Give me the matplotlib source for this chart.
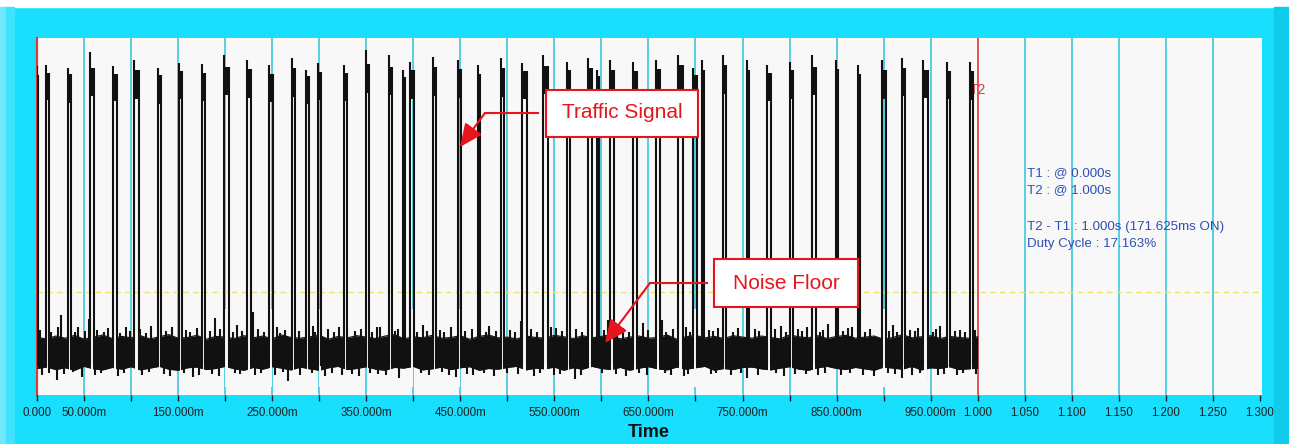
import numpy as np
import matplotlib
matplotlib.use("Agg")
import matplotlib.pyplot as plt
from matplotlib.patches import Rectangle, FancyArrowPatch
from matplotlib.lines import Line2D

plt.rcParams['font.family'] = ['Liberation Sans', 'DejaVu Sans']

# ---------------------------------------------------------------- data
# Pulse bursts of the traffic signal (start and width in ms)
pulse_start_ms = [0.0, 9.6, 32.6, 56.7, 81.1, 103.4, 128.3, 150.6, 175.1, 199.3,
                  222.9, 246.3, 271.1, 286.0, 299.2, 326.4, 349.7, 373.9, 389.1, 396.5,
                  420.6, 447.5, 468.5, 493.3, 515.9, 538.2, 563.1, 585.7, 595.0, 609.1,
                  633.9, 657.7, 681.7, 697.7, 706.6, 729.6, 754.4, 775.7, 800.5, 824.2,
                  849.1, 872.4, 898.0, 919.2, 942.2, 967.0, 991.8]
pulse_width_ms = [0.6, 2.9, 3.5, 3.6, 3.6, 5.3, 3.5, 3.2, 3.5, 4.8,
                  4.6, 4.3, 3.5, 3.2, 3.2, 3.2, 3.2, 3.5, 1.6, 3.9,
                  3.5, 3.2, 2.8, 3.5, 4.7, 4.7, 3.5, 4.3, 2.8, 4.3,
                  3.6, 4.6, 4.7, 3.6, 2.8, 2.6, 2.4, 4.6, 3.5, 3.6,
                  2.8, 2.5, 4.6, 3.5, 4.7, 3.5, 2.9]
# ON-level of each burst: highest spike, upper and lower edge of the noisy top
pulse_peak = [92.1, 92.4, 91.6, 96.1, 92.1, 93.8, 91.6, 93.0, 92.7, 95.2,
              93.8, 92.4, 94.4, 91.0, 93.0, 92.4, 96.6, 95.2, 91.0, 93.3,
              94.7, 93.8, 92.4, 94.4, 93.0, 95.2, 93.3, 94.4, 91.0, 93.8,
              93.3, 93.8, 95.2, 91.6, 93.8, 95.2, 93.8, 92.4, 93.3, 95.2,
              93.8, 92.4, 93.8, 94.4, 93.8, 93.3, 93.3]
pulse_hi = [89.5, 90.3, 89.8, 91.5, 90.0, 91.0, 89.6, 90.7, 90.2, 91.8,
            91.2, 90.0, 91.5, 89.4, 90.6, 90.1, 92.8, 92.0, 89.2, 90.9,
            91.8, 91.2, 90.0, 91.6, 90.8, 92.1, 90.9, 91.7, 89.3, 91.0,
            90.8, 91.3, 92.3, 89.7, 91.1, 92.4, 91.0, 90.2, 90.9, 92.0,
            91.3, 90.0, 91.0, 91.6, 91.1, 90.8, 90.7]
pulse_lo = [82.0, 82.5, 81.8, 83.6, 82.3, 83.0, 81.5, 82.8, 82.2, 84.0,
            83.1, 82.0, 83.4, 81.6, 82.7, 82.2, 84.5, 84.1, 81.5, 83.0,
            83.8, 83.2, 82.1, 83.5, 82.9, 84.2, 82.8, 83.6, 81.4, 83.1,
            82.7, 83.3, 84.3, 81.8, 83.0, 84.4, 83.1, 82.3, 82.8, 84.0,
            83.2, 82.1, 83.0, 83.7, 83.2, 82.9, 82.6]

# Solid core of the noise floor, one value every 10 ms from 0 to 1000 ms
noise_step_ms = 10.0
noise_hi = [16.0, 15.6, 16.4, 15.8, 16.6, 15.5, 16.1, 16.7, 15.7, 16.3,
            15.9, 16.5, 15.6, 16.2, 16.8, 15.8, 16.0, 16.6, 15.5, 16.3,
            16.1, 15.7, 16.5, 15.9, 16.4, 15.6, 16.7, 16.0, 15.8, 16.2,
            16.6, 15.5, 16.3, 15.9, 16.5, 16.1, 15.7, 16.4, 16.8, 15.6,
            16.2, 15.9, 16.6, 15.8, 16.0, 16.5, 15.5, 16.3, 16.7, 15.9,
            16.1, 15.6, 16.4, 16.0, 15.8, 16.6, 16.2, 15.7, 16.5, 15.9,
            16.3, 16.8, 15.6, 16.1, 16.4, 15.8, 16.0, 16.7, 15.5, 16.2,
            16.6, 15.9, 16.3, 15.7, 16.5, 16.1, 15.8, 16.4, 16.0, 15.6,
            16.7, 16.2, 15.9, 16.5, 15.7, 16.3, 16.6, 15.8, 16.1, 16.4,
            15.5, 16.0, 16.8, 15.9, 16.2, 16.5, 15.7, 16.3, 16.0, 15.8,
            16.2]
noise_lo = [7.3, 7.7, 7.0, 7.5, 6.8, 7.9, 7.2, 6.9, 7.6, 7.1,
            7.8, 6.9, 7.4, 7.9, 7.1, 6.8, 7.5, 7.7, 7.0, 7.3,
            7.9, 7.2, 6.8, 7.6, 7.1, 7.8, 7.4, 6.9, 7.7, 7.2,
            6.8, 7.5, 7.9, 7.0, 7.3, 7.8, 7.1, 6.8, 7.6, 7.4,
            7.9, 6.9, 7.2, 7.7, 7.0, 7.5, 7.8, 6.8, 7.3, 7.1,
            7.6, 7.9, 6.9, 7.4, 7.2, 7.7, 6.8, 7.5, 7.1, 7.9,
            7.3, 7.0, 7.6, 6.8, 7.4, 7.8, 7.2, 6.9, 7.7, 7.1,
            7.5, 7.9, 6.8, 7.3, 7.0, 7.6, 7.7, 7.2, 6.9, 7.4,
            7.8, 7.1, 6.8, 7.5, 7.9, 7.3, 7.0, 7.6, 7.2, 6.8,
            7.7, 7.4, 7.1, 7.9, 6.9, 7.5, 7.3, 7.8, 7.0, 7.2,
            7.4]
# spikes sticking out of the noise core (time in ms, level reached)
spike_up_ms = [3, 15, 22, 26, 40, 44, 51, 55, 64, 71,
               76, 88, 95, 99, 109, 116, 121, 137, 143, 158,
               163, 170, 184, 189, 195, 208, 213, 218, 230, 235,
               241, 255, 258, 264, 279, 293, 296, 309, 316, 321,
               330, 338, 344, 356, 361, 365, 381, 384, 404, 410,
               415, 428, 433, 440, 455, 462, 477, 481, 488, 503,
               508, 515, 525, 531, 546, 552, 558, 573, 579, 603,
               607, 617, 623, 629, 644, 650, 664, 669, 676, 690,
               694, 714, 719, 724, 729, 740, 745, 763, 768, 784,
               791, 796, 809, 813, 819, 832, 836, 841, 857, 862,
               866, 880, 886, 906, 910, 914, 928, 933, 937, 952,
               956, 960, 976, 981, 986, 997]
spike_up_level = [18.2, 17.6, 19.0, 22.3, 17.4, 18.8, 17.9, 21.2, 18.1, 17.5,
                  18.6, 17.3, 18.9, 17.8, 18.5, 17.2, 19.1, 17.7, 19.0, 18.0,
                  17.4, 18.7, 17.9, 21.5, 18.3, 17.6, 19.4, 17.8, 23.2, 18.4,
                  17.5, 18.8, 17.3, 18.2, 17.9, 19.1, 17.6, 18.5, 17.4, 18.9,
                  18.6, 17.7, 18.3, 17.5, 18.8, 19.0, 17.8, 18.4, 17.6, 19.5,
                  17.9, 18.2, 17.4, 18.8, 17.7, 18.5, 17.5, 19.3, 17.8, 18.1,
                  17.6, 20.5, 18.3, 17.5, 18.9, 18.7, 17.8, 18.4, 17.6, 18.2,
                  20.9, 17.7, 18.6, 17.4, 20.0, 18.1, 20.9, 17.6, 18.3, 18.9,
                  17.5, 18.2, 17.8, 18.6, 18.0, 17.4, 18.7, 18.5, 17.7, 18.3,
                  19.2, 17.6, 18.4, 17.9, 18.8, 17.5, 18.1, 19.7, 17.7, 18.6,
                  18.8, 17.4, 18.3, 17.8, 19.4, 17.6, 18.2, 17.9, 18.6, 17.5,
                  18.4, 19.1, 17.7, 18.2, 17.6, 18.0]
spike_dn_ms = [5, 13, 21, 29, 38, 48, 62, 68, 86, 92,
               112, 119, 135, 141, 156, 166, 172, 186, 193, 210,
               216, 232, 238, 253, 261, 267, 280, 292, 306, 314,
               324, 335, 342, 354, 363, 371, 385, 408, 417, 430,
               438, 445, 457, 464, 475, 486, 500, 511, 528, 535,
               550, 556, 572, 578, 601, 616, 626, 640, 648, 668,
               674, 688, 692, 716, 722, 738, 748, 755, 766, 786,
               794, 806, 818, 830, 838, 855, 864, 878, 890, 905,
               912, 920, 930, 939, 945, 958, 964, 978, 984, 998]
spike_dn_level = [5.4, 6.0, 4.2, 5.7, 6.2, 4.9, 5.6, 6.1, 5.3, 5.9,
                  5.5, 6.2, 5.7, 5.2, 6.0, 4.8, 5.6, 5.8, 5.1, 6.1,
                  5.7, 5.4, 6.0, 5.6, 6.2, 3.9, 5.5, 5.9, 5.3, 6.1,
                  5.6, 5.8, 5.2, 6.0, 5.7, 5.4, 4.6, 5.9, 5.6, 6.2,
                  5.4, 4.9, 5.8, 5.5, 6.1, 5.3, 5.9, 5.7, 5.2, 6.0,
                  5.6, 5.8, 4.3, 5.4, 6.1, 5.7, 5.3, 5.9, 5.6, 6.0,
                  5.5, 5.2, 5.8, 5.7, 6.1, 5.4, 5.9, 4.7, 5.6, 6.0,
                  5.3, 5.8, 5.7, 5.5, 6.1, 5.4, 5.9, 5.6, 5.2, 6.0,
                  5.7, 4.5, 5.5, 5.9, 3.8, 5.6, 5.8, 5.4, 6.0, 5.7]

threshold_level = 28.75
cursor_t1 = 0.0
cursor_t2 = 1.0

tick_pos = [i * 0.05 for i in range(27)]
tick_labels = ["0.000", "50.000m", "", "150.000m", "", "250.000m", "", "350.000m", "",
               "450.000m", "", "550.000m", "", "650.000m", "", "750.000m", "",
               "850.000m", "", "950.000m", "1.000", "1.050", "1.100", "1.150",
               "1.200", "1.250", "1.300"]

info_lines = ["T1 : @ 0.000s", "T2 : @ 1.000s", "",
              "T2 - T1 : 1.000s (171.625ms ON)", "Duty Cycle : 17.163%"]

# ---------------------------------------------------------------- style
FRAME = '#19dfff'
PLOT_BG = '#f8f8f8'
GRID = '#4ccbe0'
CURSOR = '#d83c3c'
TRACE = '#111111'
NOTE_RED = '#e8141c'
INFO_BLUE = '#2f4fb5'

W, H = 1289, 444


def fx(px):
    return px / W


def fy(py):
    return 1 - py / H


fig = plt.figure(figsize=(W / 100, H / 100), dpi=100, facecolor=FRAME)

# window frame decoration
fig.patches.append(Rectangle((0, fy(7)), 1, 7 / H, transform=fig.transFigure,
                             color='white', zorder=0))
fig.patches.append(Rectangle((0, 0), fx(6), fy(7), transform=fig.transFigure,
                             color='#72e9fb', zorder=0))
fig.patches.append(Rectangle((fx(6), 0), fx(8), fy(7), transform=fig.transFigure,
                             color='#40e3fe', zorder=0))
fig.patches.append(Rectangle((fx(1274), 0), fx(15), fy(7), transform=fig.transFigure,
                             color='#10cbec', zorder=0))

left_px, right_px, top_px, bottom_px = 37, 1261.5, 38, 394.5
ax = fig.add_axes([fx(left_px), fy(bottom_px), fx(right_px) - fx(left_px),
                   (bottom_px - top_px) / H])
ax.set_facecolor(PLOT_BG)
ax.set_xlim(0, (right_px - left_px) / 940.7)
ax.set_ylim(0, 100)
for s in ax.spines.values():
    s.set_visible(False)

ax.set_yticks([])
ax.set_xticks(tick_pos)
ax.set_xticklabels(tick_labels)
ax.tick_params(axis='x', length=4, width=1, color='#202020', pad=5,
               labelsize=8.3, labelcolor='#1e1e1e')

# vertical grid
grid_pos = [p for p in tick_pos[1:-1] if abs(p - cursor_t2) > 1e-9]
ax.vlines(grid_pos, 0, 100, colors=GRID, lw=1.3, zorder=0.5)

# threshold
ax.axhline(threshold_level, color='#f0e468', lw=1.0, ls=(0, (4, 3)), zorder=0.8)

# cursors
ax.axvline(cursor_t1, color=CURSOR, lw=1.6, zorder=1, clip_on=False)
ax.axvline(cursor_t2, color=CURSOR, lw=1.2, zorder=1)
ax.text(cursor_t2, 85.4, "T2", color=CURSOR, fontsize=10, ha='center', va='center',
        zorder=1.2)

# noise floor: solid core plus the spikes around it
t_noise = np.arange(len(noise_hi)) * noise_step_ms / 1000.0
ax.fill_between(t_noise, noise_lo, noise_hi, color=TRACE, lw=0, zorder=2)
ax.plot(t_noise, noise_hi, color=TRACE, lw=0.8, zorder=2)
ax.plot(t_noise, noise_lo, color=TRACE, lw=0.8, zorder=2)
ax.vlines(np.array(spike_up_ms) / 1000.0, 15.0, spike_up_level, colors=TRACE,
          lw=1.5, zorder=2)
ax.vlines(np.array(spike_dn_ms) / 1000.0, spike_dn_level, 8.0, colors=TRACE,
          lw=1.5, zorder=2)

# pulses
for st, wd, pk, hi, lo in zip(pulse_start_ms, pulse_width_ms, pulse_peak,
                              pulse_hi, pulse_lo):
    s = st / 1000.0
    e = (st + wd) / 1000.0
    gap = 0.001
    if e - s > 2 * gap:
        ax.fill_between([s + gap, e - gap], 2.0, 24.0, color=PLOT_BG, lw=0, zorder=2.5)
    ax.fill_between([s, e], lo, hi, color=TRACE, lw=0, zorder=3)
    ax.vlines([s], 8.0, pk, colors=TRACE, lw=1.5, zorder=3)
    ax.vlines([e], 8.0, hi, colors=TRACE, lw=1.5, zorder=3)

# axis title
fig.text(fx(649), fy(432), "Time", fontsize=13, fontweight='bold', ha='center',
         va='center', color='#111111')

# cursor readout
info_y = [173, 190.5, 208, 227, 244]
for line, yy in zip(info_lines, info_y):
    if line:
        fig.text(fx(1027), fy(yy), line, fontsize=9.6, color=INFO_BLUE,
                 ha='left', va='center', zorder=5)


def callout(box, text, center, path):
    x0, y0, x1, y1 = box
    fig.patches.append(Rectangle((fx(x0), fy(y1)), fx(x1) - fx(x0), fy(y0) - fy(y1),
                                 transform=fig.transFigure, facecolor='white',
                                 edgecolor=NOTE_RED, lw=1.5, zorder=6))
    fig.text(fx(center[0]), fy(center[1]), text, fontsize=15, color=NOTE_RED,
             ha='center', va='center', zorder=7)
    (ax_, ay_), (bx, by), (cx, cy) = path
    fig.add_artist(Line2D([fx(ax_), fx(bx)], [fy(ay_), fy(by)],
                          transform=fig.transFigure, color=NOTE_RED, lw=1.5, zorder=6))
    fig.add_artist(FancyArrowPatch((fx(bx), fy(by)), (fx(cx), fy(cy)),
                                   transform=fig.transFigure,
                                   arrowstyle='-|>,head_length=1.0,head_width=0.45',
                                   mutation_scale=14, color=NOTE_RED, lw=1.5,
                                   shrinkA=0, shrinkB=0, zorder=6))


callout((546, 90, 698, 137), "Traffic Signal", (622, 113),
        [(538, 113), (485, 113), (460, 147)])
callout((714, 259, 858, 307), "Noise Floor", (786, 283),
        [(707, 283), (650, 283), (605, 343)])

fig.savefig("out.png", dpi=100, facecolor=fig.get_facecolor())
